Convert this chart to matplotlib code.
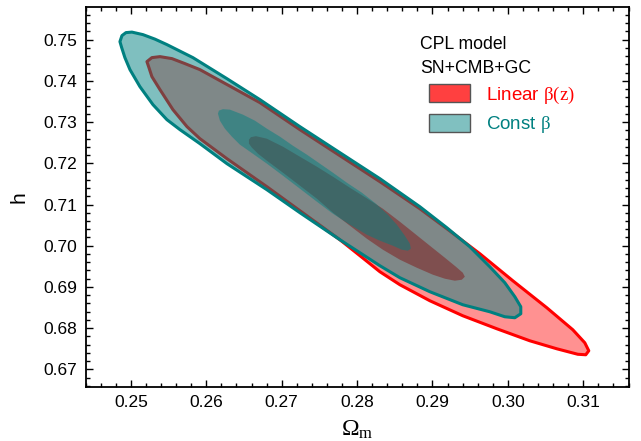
import matplotlib
matplotlib.use("Agg")
import matplotlib.pyplot as plt
from matplotlib.patches import Patch
from matplotlib.ticker import MultipleLocator, FormatStrFormatter

plt.rcParams["font.family"] = ["Liberation Sans", "DejaVu Sans"]
plt.rcParams["mathtext.fontset"] = "custom"
plt.rcParams["mathtext.rm"] = "Liberation Serif"
plt.rcParams["mathtext.it"] = "Liberation Serif:italic"

# contour outlines (Omega_m, h)
# Linear beta(z): 2 sigma and 1 sigma
lin_2s_om = [0.25212, 0.25278, 0.25385, 0.25544, 0.25716, 0.25915, 0.26180,
             0.26445, 0.26711, 0.27241, 0.27771, 0.28302, 0.28832, 0.29190,
             0.29628, 0.30065, 0.30516, 0.30861, 0.31020, 0.31073, 0.31033,
             0.30927, 0.30649, 0.30291, 0.29853, 0.29402, 0.28965, 0.28567,
             0.28302, 0.28037, 0.27771, 0.27241, 0.26803, 0.26273, 0.25915,
             0.25743, 0.25557, 0.25385, 0.25278, 0.25239]
lin_2s_h = [0.74466, 0.74563, 0.74587, 0.74539, 0.74418, 0.74272, 0.74005,
            0.73738, 0.73471, 0.72816, 0.72185, 0.71554, 0.70898, 0.70413,
            0.69806, 0.69151, 0.68496, 0.67962, 0.67646, 0.67452, 0.67355,
            0.67367, 0.67500, 0.67694, 0.67986, 0.68301, 0.68665, 0.69054,
            0.69369, 0.69758, 0.70146, 0.70850, 0.71432, 0.72112, 0.72597,
            0.72889, 0.73301, 0.73787, 0.74102, 0.74320]
lin_1s_om = [0.26565, 0.26591, 0.26658, 0.26803, 0.27016, 0.27241, 0.27466,
             0.27679, 0.27904, 0.28116, 0.28342, 0.28567, 0.28766, 0.28965,
             0.29164, 0.29310, 0.29402, 0.29429, 0.29389, 0.29296, 0.29164,
             0.29005, 0.28792, 0.28567, 0.28342, 0.28129, 0.27904, 0.27679,
             0.27466, 0.27241, 0.27016, 0.26803, 0.26684, 0.26604, 0.26565]
lin_1s_h = [0.72573, 0.72634, 0.72658, 0.72597, 0.72403, 0.72160, 0.71918,
            0.71675, 0.71408, 0.71165, 0.70898, 0.70583, 0.70292, 0.70000,
            0.69709, 0.69491, 0.69345, 0.69248, 0.69175, 0.69151, 0.69200,
            0.69297, 0.69466, 0.69661, 0.69903, 0.70170, 0.70486, 0.70801,
            0.71141, 0.71457, 0.71772, 0.72063, 0.72233, 0.72379, 0.72476]

# Const beta: 2 sigma and 1 sigma
con_2s_om = [0.24854, 0.24881, 0.24934, 0.25013, 0.25159, 0.25318, 0.25477,
             0.25822, 0.26273, 0.26711, 0.27241, 0.27771, 0.28302, 0.28832,
             0.29190, 0.29495, 0.29760, 0.29959, 0.30092, 0.30171, 0.30171,
             0.30092, 0.29959, 0.29760, 0.29402, 0.28965, 0.28567, 0.28302,
             0.27771, 0.27241, 0.26803, 0.26273, 0.25915, 0.25650, 0.25477,
             0.25292, 0.25119, 0.24987, 0.24920, 0.24877]
con_2s_h = [0.74951, 0.75097, 0.75170, 0.75182, 0.75121, 0.75012, 0.74879,
            0.74563, 0.74053, 0.73544, 0.72889, 0.72258, 0.71627, 0.70947,
            0.70437, 0.69976, 0.69491, 0.69103, 0.68763, 0.68520, 0.68350,
            0.68253, 0.68277, 0.68398, 0.68568, 0.68884, 0.69224, 0.69515,
            0.70146, 0.70801, 0.71359, 0.71991, 0.72476, 0.72816, 0.73058,
            0.73422, 0.73859, 0.74272, 0.74563, 0.74806]
con_1s_om = [0.26154, 0.26167, 0.26220, 0.26313, 0.26485, 0.26644, 0.26803,
             0.26976, 0.27148, 0.27334, 0.27506, 0.27679, 0.27864, 0.28063,
             0.28249, 0.28408, 0.28527, 0.28633, 0.28700, 0.28713, 0.28673,
             0.28593, 0.28474, 0.28302, 0.28129, 0.27904, 0.27679, 0.27466,
             0.27241, 0.27016, 0.26803, 0.26578, 0.26445, 0.26339, 0.26246,
             0.26180]
con_1s_h = [0.73204, 0.73277, 0.73313, 0.73301, 0.73180, 0.73034, 0.72840,
            0.72646, 0.72427, 0.72209, 0.71991, 0.71772, 0.71529, 0.71287,
            0.71020, 0.70753, 0.70510, 0.70243, 0.70049, 0.69928, 0.69879,
            0.69903, 0.70000, 0.70122, 0.70267, 0.70510, 0.70777, 0.71068,
            0.71384, 0.71699, 0.71991, 0.72282, 0.72452, 0.72646, 0.72840,
            0.73034]

fig = plt.figure(figsize=(6.41, 4.41), dpi=100)
ax = fig.add_axes([0.1337, 0.1231, 0.848, 0.860])

red = "#ff0000"
teal = "#008080"

ax.fill(lin_2s_om, lin_2s_h, facecolor="#ff9191", edgecolor=red,
        linewidth=2.2, joinstyle="round", zorder=1)
ax.fill(lin_1s_om, lin_1s_h, facecolor="#ff1f1f", edgecolor="none", zorder=2)
ax.fill(con_2s_om, con_2s_h, facecolor=teal, alpha=0.5, edgecolor="none",
        zorder=3)
ax.fill(con_1s_om, con_1s_h, facecolor=teal, alpha=0.5, edgecolor="none",
        zorder=4)
ax.fill(con_2s_om, con_2s_h, facecolor="none", edgecolor=teal,
        linewidth=2.2, joinstyle="round", zorder=5)

ax.set_xlim(0.244, 0.3161)
ax.set_ylim(0.6658, 0.7578)

ax.xaxis.set_major_locator(MultipleLocator(0.01))
ax.xaxis.set_minor_locator(MultipleLocator(0.002))
ax.yaxis.set_major_locator(MultipleLocator(0.01))
ax.yaxis.set_minor_locator(MultipleLocator(0.002))
ax.xaxis.set_major_formatter(FormatStrFormatter("%.2f"))
ax.yaxis.set_major_formatter(FormatStrFormatter("%.2f"))
ax.tick_params(which="both", direction="in", top=True, right=True,
               labelsize=12.5, width=1.0, pad=6)
ax.tick_params(which="major", length=5)
ax.tick_params(which="minor", length=3)
for s in ax.spines.values():
    s.set_linewidth(1.3)

ax.set_xlabel(r"$\mathrm{\Omega_{m}}$", fontsize=17, labelpad=6)
ax.set_ylabel("h", fontsize=15, labelpad=11)

ax.text(0.615, 0.925, "CPL model\nSN+CMB+GC", transform=ax.transAxes,
        ha="left", va="top", fontsize=12.7, linespacing=1.55)

handles = [
    Patch(facecolor="#ff4040", edgecolor="#555555", linewidth=1),
    Patch(facecolor="#80c0c0", edgecolor="#555555", linewidth=1),
]
labels = [r"Linear $\mathrm{β(z)}$", r"Const $\mathrm{β}$"]
leg = ax.legend(handles, labels, loc="upper left",
                bbox_to_anchor=(0.614, 0.822), borderpad=0, frameon=False,
                fontsize=13.5, handlelength=2.2, handleheight=1.1,
                handletextpad=0.85, labelspacing=0.42)
for t, c in zip(leg.get_texts(), [red, teal]):
    t.set_color(c)

fig.savefig("out.png", dpi=100)
